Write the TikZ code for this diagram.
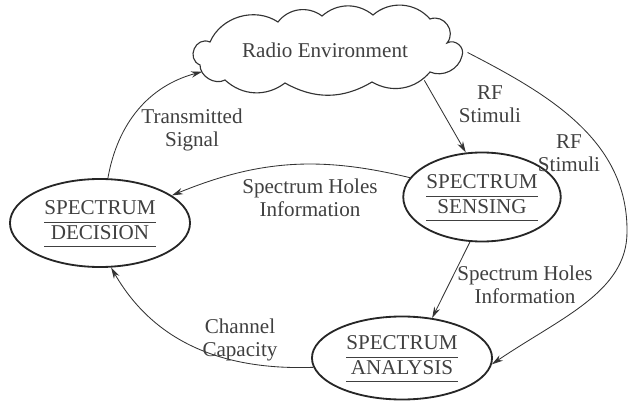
\documentclass[tikz,border=0pt]{standalone}
\usepackage{fontspec}
\setmainfont{Liberation Serif}
\usepackage{xcolor}
\usepackage{tikz}
\usetikzlibrary{arrows.meta,positioning,shapes.geometric}

\setlength{\arrayrulewidth}{0.9pt}
\newcommand{\stagename}[2]{\begin{tabular}{@{}c@{}}#1\\\hline #2\\\hline\end{tabular}}

\begin{document}
\begin{tikzpicture}[
  x=0.025cm, y=0.025cm,
  >={Stealth[length=8pt,width=4.5pt]},
  stage/.style={ellipse, draw=black!85, line width=1.3pt, inner sep=0pt,
    text=black!75, font=\fontsize{15}{16.5}\selectfont},
  lbl/.style={align=center, text=black!75, font=\fontsize{15}{16.5}\selectfont},
  flow/.style={draw=black!80, line width=0.6pt, ->},
  puffs/.style={draw=black!80, line width=0.8pt},
]
\useasboundingbox (0,0) rectangle (632,403);

% Environment (cloud)
\node[ellipse, minimum width=7.125cm, minimum height=2.1cm, inner sep=0pt, lbl] (env) at (325,353) {Radio Environment};
\draw[puffs] (210,361)
  to[bend left=50] (278,381)
  to[bend left=45] (322,387)
  to[bend left=40] (373,388)
  to[bend left=45] (430,384)
  to[bend left=75, looseness=1.3] (447,360)
  to[bend left=70, looseness=1.2] (462,347)
  to[bend left=50] (430,331)
  to[bend left=40] (372,321)
  to[bend left=30] (285,320)
  to[bend left=40] (225,323)
  to[bend left=60] (200,338)
  to[bend left=90, looseness=1.6] cycle;

% Cognitive cycle stages
\node[stage, minimum width=3.225cm, minimum height=2.225cm] (sensing) at (482,206) {\stagename{SPECTRUM}{SENSING}};
\node[stage, minimum width=4.5cm, minimum height=2.2cm] (decision) at (100,180) {\stagename{SPECTRUM}{DECISION}};
\node[stage, minimum width=4.5cm, minimum height=2.075cm] (analysis) at (402,45) {\stagename{SPECTRUM}{ANALYSIS}};

% Arrows
\coordinate (outer) at (627,171);
\draw[flow] (env.-1) .. controls (548,309) and (628,263) .. (outer)
  .. controls (627,111) and (560,85) .. (analysis.-4);
\draw[flow] (env.-17) -- (sensing.110);
\draw[flow] (sensing.165) to[bend right=18] (decision.21);
\draw[flow] (sensing.255) -- (analysis.53);
\draw[flow] (decision.80) to[out=80, in=195] (env.190);
\draw[flow] (analysis.186) to[out=182, in=-60] (decision.284);

% Labels
\node[lbl] (rf1) at (490,299) {RF\\Stimuli};
\node[lbl] (rf2) at (569,250) {RF\\Stimuli};
\node[lbl] (holes1) at (310,205) {Spectrum Holes\\Information};
\node[lbl] (holes2) at (525,118) {Spectrum Holes\\Information};
\node[lbl] (tx) at (192,273) {Transmitted\\Signal};
\node[lbl] (cap) at (240,63) {Channel\\Capacity};
\end{tikzpicture}
\end{document}
